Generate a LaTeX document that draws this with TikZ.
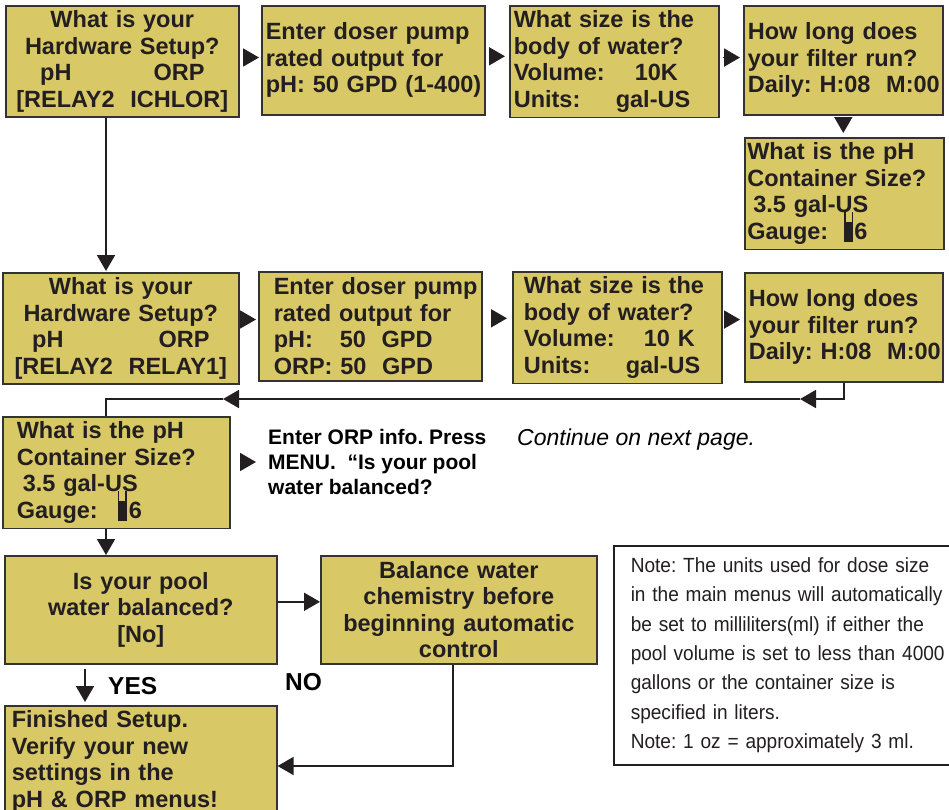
\documentclass[tikz,border=0pt]{standalone}
\usepackage{fontspec}
\setmainfont{Liberation Sans}
\newfontfamily\notefont[FakeStretch=0.93]{Liberation Sans}
\usepackage{xcolor}
\usepackage{tikz}
\usetikzlibrary{arrows.meta,calc}
\definecolor{Ink}{HTML}{231F20}
\definecolor{Edge}{HTML}{333333}
\definecolor{Panel}{HTML}{D8C866}
\newcommand{\gaugebar}{\smash{\rlap{\rule[-3pt]{9pt}{20pt}}\rlap{\rule[-3pt]{1.3pt}{30pt}}\hspace{7.7pt}\rule[-3pt]{1.3pt}{30pt}}}
\tikzset{
  panel/.style={draw=Edge,line width=1.6pt,fill=Panel,text=Ink,anchor=north west,inner xsep=4pt,inner ysep=5pt,font=\fontsize{23.5pt}{26.5pt}\selectfont\bfseries},
  panelc/.style={panel,align=center},
  panell/.style={panel,align=left},
  notebox/.style={draw=Ink,line width=1.5pt,fill=white,text=Ink,anchor=north west,inner xsep=17pt,align=left,font=\notefont\fontsize{20.5pt}{29.3pt}\selectfont},
  infotext/.style={text=black,align=left,inner sep=2pt,font=\fontsize{21pt}{25pt}\selectfont\bfseries},
  lbl/.style={text=black,inner sep=0pt,font=\fontsize{24.5pt}{26pt}\selectfont\bfseries},
  flow/.style={draw=Ink,line width=1.8pt,-{Triangle[length=16pt,width=18pt]}},
  link/.style={draw=Ink,line width=1.8pt}
}
\begin{document}
\frenchspacing
\begin{tikzpicture}[x=1pt,y=-1pt]
  \useasboundingbox (0,0) rectangle (949,809);
  \clip (0,0) rectangle (949,809);
  \fill[white] (0,0) rectangle (949,809);

  \node[panelc,text width=225pt,minimum height=109pt] (hwA) at (5,5) {What is your\\Hardware Setup?\\pH\hspace{82pt}ORP\\{[}RELAY2\ \ ICHLOR{]}};
  \node[panell,text width=215pt,minimum height=109pt] (doseA) at (261,5) {Enter doser pump\\rated output for\\\mbox{pH: 50 GPD (1-400)}};
  \node[panell,text width=201pt,minimum height=110pt] (volA) at (509,5) {What size is the\\body of water?\\\makebox[121pt][l]{Volume:}10K\\\makebox[102pt][l]{Units:}gal-US};
  \node[panell,text width=191pt,minimum height=109pt] (filtA) at (743,5) {How long does\\your filter run?\\\mbox{Daily: H:08\ \ M:00}};
  \node[panell,inner xsep=2.5pt,text width=194pt,minimum height=109pt] (phA) at (744,137) {What is the pH\\Container Size?\\\hspace*{6pt}3.5 gal-US\\Gauge:\hspace{16pt}\gaugebar\hspace{1pt}6};

  \node[panelc,text width=228pt,minimum height=108pt] (hwB) at (2,272) {What is your\\Hardware Setup?\\pH\hspace{95pt}ORP\\{[}RELAY2\ \ RELAY1{]}};
  \node[panell,inner xsep=15pt,text width=193pt,minimum height=109pt] (doseB) at (258,271) {\mbox{Enter doser pump}\\rated output for\\\makebox[66pt][l]{pH:}50\ \ GPD\\ORP: 50\ \ GPD};
  \node[panell,inner xsep=11pt,text width=187pt,minimum height=109pt] (volB) at (512,271) {What size is the\\body of water?\\\makebox[120pt][l]{Volume:}10 K\\\makebox[102pt][l]{Units:}gal-US};
  \node[panell,text width=190pt,minimum height=109pt] (filtB) at (744,272) {How long does\\your filter run?\\\mbox{Daily: H:08\ \ M:00}};

  \node[panell,inner xsep=14pt,text width=199pt,minimum height=110pt] (phB) at (2,416) {What is the pH\\Container Size?\\\hspace*{6pt}3.5 gal-US\\Gauge:\hspace{20pt}\gaugebar\hspace{2pt}6};
  \node[infotext,anchor=west] (orpInfo) at (266,462) {Enter ORP info. Press\\MENU.\ \ “Is your pool\\water balanced?};
  \node[anchor=base west,inner sep=0pt,text=black,font=\fontsize{23pt}{26pt}\selectfont\itshape] (contNote) at (517,445) {Continue on next page.};

  \node[panelc,text width=264pt,minimum height=108pt] (balQ) at (4,555) {Is your pool\\water balanced?\\{[}No{]}};
  \node[panelc,text width=268pt,minimum height=108pt] (balFix) at (320,555) {Balance water\\chemistry before\\beginning automatic\\control};
  \node[panell,inner xsep=7pt,text width=258pt] (done) at (4,705) {Finished Setup.\\Verify your new\\settings in the\\pH \& ORP menus!};
  \node[lbl,anchor=base west] (yesLbl) at (108,694) {YES};
  \node[lbl,anchor=base west] (noLbl) at (285,690) {NO};

  \node[notebox,text width=316pt,minimum height=219pt] (noteBox) at (613,545) {Note: The units used for dose size\\in the main menus will automatically\\be set to milliliters(ml) if either the\\pool volume is set to less than 4000\\gallons or the container size is\\specified in liters.\\Note: 1 oz = approximately 3 ml.};

  \draw[flow,shorten <=3pt,shorten >=2pt] ([yshift=4pt]hwA.east) -- ([yshift=4pt]hwA.east -| doseA.west);
  \draw[flow,shorten <=3pt,shorten >=4pt] ([yshift=4pt]doseA.east) -- ([yshift=4pt]doseA.east -| volA.west);
  \draw[flow,shorten <=3pt,shorten >=3pt] ([yshift=4pt]volA.east) -- ([yshift=4pt]volA.east -| filtA.west);
  \draw[flow,shorten <=2pt,shorten >=4pt] (filtA.south) -- (filtA.south |- phA.north);
  \draw[flow,shorten >=1pt] ([xshift=101pt]hwA.south west) -- ([xshift=101pt]hwA.south west |- hwB.north);

  \draw[flow,shorten <=3pt,shorten >=2pt] ([yshift=9pt]hwB.east) -- ([yshift=9pt]hwB.east -| doseB.west);
  \draw[flow,shorten <=9pt,shorten >=5pt] ([yshift=8pt]doseB.east) -- ([yshift=8pt]doseB.east -| volB.west);
  \draw[flow,shorten <=2pt,shorten >=4pt] ([yshift=8pt]volB.east) -- ([yshift=8pt]volB.east -| filtB.west);

  \coordinate (backA) at (800,399);
  \coordinate (backB) at (223,399);
  \draw[flow] (filtB.south) |- (backA);
  \draw[flow] (backA) -- (backB);
  \draw[link] (backB) -| ([xshift=104pt]phB.north west);

  \draw[flow,shorten <=11pt,shorten >=10pt] (phB.east |- orpInfo.west) -- (orpInfo.west);
  \draw[flow] ([xshift=104pt]phB.south west) -- ([xshift=104pt]phB.south west |- balQ.north);
  \draw[flow] ([yshift=8pt]balQ.east) -- ([yshift=8pt]balQ.east -| balFix.west);
  \draw[flow,shorten <=4pt,shorten >=3pt] ([xshift=81pt]balQ.south west) -- ([xshift=81pt]balQ.south west |- done.north);

  \coordinate (noIn) at ($(done.north east)+(0,61)$);
  \draw[flow] ([xshift=-6pt]balFix.south) |- (noIn);
\end{tikzpicture}
\end{document}
